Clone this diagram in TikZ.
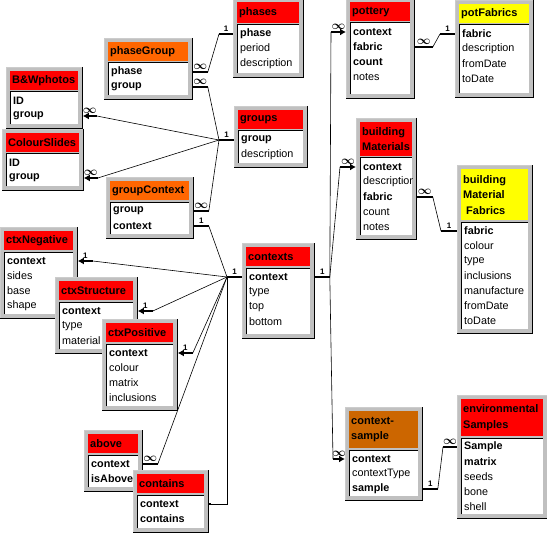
\documentclass[tikz,border=0pt]{standalone}
\usepackage{fontspec}
\setmainfont{Liberation Sans}
\usetikzlibrary{arrows.meta,positioning}
\definecolor{silver}{HTML}{C0C0C0}
\definecolor{tblred}{HTML}{FF0000}
\definecolor{tblorange}{HTML}{FF6600}
\definecolor{tblbrown}{HTML}{CC6600}
\definecolor{tblyellow}{HTML}{FFFF00}
\pgfdeclarelayer{back}
\pgfsetlayers{back,main}

\tikzstyle{tblframe} = [rectangle, fill=silver, draw=gray!40, line width=0.8pt,
    inner sep=0pt, anchor=north west]
\tikzstyle{tblhead} = [rectangle, inner sep=0pt, anchor=north west]
\tikzstyle{tbltitle} = [inner sep=0pt, anchor=west, align=left,
    font=\bfseries\fontsize{11}{15.5}\selectfont]
\tikzstyle{tbllist} = [rectangle, fill=white, inner sep=0pt, anchor=north west]
\tikzstyle{tblfield} = [inner sep=0pt, anchor=west, font=\fontsize{10.8}{12}\selectfont]
\tikzstyle{rel} = [draw, line width=0.6pt]
\tikzstyle{stub} = [draw, line width=2.5pt]
\tikzstyle{into} = [stub, -{Latex[length=6pt,width=7pt]}]
\tikzstyle{card} = [inner sep=0pt, font=\bfseries\fontsize{8}{8}\selectfont]

\newcommand{\many}{{\fontsize{12}{12}\selectfont\boldmath$\infty$}}

% name, top left, width, height, header height, colour, title, fields
\newcommand{\dbtable}[8]{%
  \node[tblframe, minimum width=#3, minimum height=#4] (#1) at #2 {};
  \draw[line width=1pt] (#1.north east) -- (#1.south east) -- (#1.south west);
  \node[tblhead, fill=#6, minimum width=#3-8, minimum height=#5] (#1-h)
      at ([shift={(4,4)}]#1.north west) {};
  \node[tbltitle] at ([xshift=2pt]#1-h.west) {#7};
  \node[tbllist, minimum width=#3-8, minimum height=#4-#5-10] (#1-l)
      at ([shift={(4,#5+6)}]#1.north west) {};
  \draw[line width=1pt] (#1-l.south west) -- (#1-l.north west) -- (#1-l.north east);
  \begin{scope}
    \clip (#1-l.north west) rectangle (#1-l.south east);
    \foreach \fld [count=\i] in {#8} {
      \node[tblfield] at ([shift={(7,#5+15*\i)}]#1.north west) {\fld};
      \coordinate (#1-\i) at ([shift={(0,#5+15*\i)}]#1.north west);
    }
  \end{scope}
}

\begin{document}
\begin{tikzpicture}[x=1pt,y=-1pt]
  \useasboundingbox (0,0) rectangle (547,535);

  \dbtable{phases}{(233,-2)}{70}{79}{21}{tblred}{phases}{\bfseries phase, period, description}
  \dbtable{pottery}{(346,-2)}{68}{100}{19}{tblred}{pottery}{\bfseries context, \bfseries fabric, \bfseries count, notes}
  \dbtable{potfab}{(455,0)}{78}{97}{19}{tblyellow}{potFabrics}{\bfseries fabric, description, fromDate, toDate}
  \dbtable{phasegrp}{(104,38)}{88}{61}{19}{tblorange}{phaseGroup}{\bfseries phase, \bfseries group}
  \dbtable{bwphotos}{(6,67)}{76}{61}{19}{tblred}{B\&Wphotos}{\bfseries ID, \bfseries group}
  \dbtable{slides}{(2,129)}{81}{61}{19}{tblred}{ColourSlides}{\bfseries ID, \bfseries group}
  \dbtable{groups}{(234,106)}{73}{61}{19}{tblred}{groups}{\bfseries group, description}
  \dbtable{grpctx}{(106,177)}{87}{61}{19}{tblorange}{groupContext}{\bfseries group, \bfseries context}
  \dbtable{ctxneg}{(0,227)}{77}{91}{19}{tblred}{ctxNegative}{\bfseries context, sides, base, shape}
  \dbtable{ctxstruct}{(55,277)}{82}{76}{19}{tblred}{ctxStructure}{\bfseries context, type, material}
  \dbtable{ctxpos}{(102,319)}{75}{91}{19}{tblred}{ctxPositive}{\bfseries context, colour, matrix, inclusions}
  \dbtable{contexts}{(242,243)}{72}{95}{19}{tblred}{contexts}{\bfseries context, type, top, bottom}
  \dbtable{bldmat}{(356,118)}{60}{121}{34}{tblred}{building\\Materials}{\bfseries context, description, \bfseries fabric, count, notes}
  \dbtable{bmfab}{(457,165)}{75}{168}{51}{tblyellow}{building\\Material\\\hspace*{3pt}Fabrics}{\bfseries fabric, colour, type, inclusions, manufacture, fromDate, toDate}
  \dbtable{abv}{(84,430)}{58}{61}{19}{tblred}{above}{\bfseries context, \bfseries isAbove}
  \dbtable{contains}{(133,470)}{75}{62}{19}{tblred}{contains}{\bfseries context, \bfseries contains}
  \dbtable{ctxsample}{(345,407)}{77}{93}{37}{tblbrown}{context-\\sample}{\bfseries context, contextType, \bfseries sample}
  \dbtable{envsamp}{(457,395)}{90}{123}{37}{tblred}{environmental\\Samples}{\bfseries Sample, \bfseries matrix, seeds, bone, shell}

  \begin{pgfonlayer}{back}
    % phases and groups
    \draw[stub] (phases-1) -- node[card, above=1pt] {1} ++(-14,0) coordinate (ph1);
    \draw[stub] (phasegrp.east |- phasegrp-1) -- node[card, above=1pt] {\many} ++(15,0) coordinate (pg1);
    \draw[rel] (pg1) -- (ph1);
    \draw[stub] (groups-1) -- node[card, above=1pt] {1} ++(-15,0) coordinate (gj);
    \draw[stub] (phasegrp.east |- phasegrp-2) -- node[card, above=1pt] {\many} ++(15,0) coordinate (pg2);
    \draw[rel] (pg2) -- (gj);
    \foreach \tname in {bwphotos, slides} {
      \path (\tname.east |- \tname-2) ++(14,0) coordinate (\tname-a);
      \draw[into] (\tname-a) -- node[card, above=1pt] {\many} (\tname.east |- \tname-2);
      \draw[rel] (\tname-a) -- (gj);
    }
    \draw[stub] (grpctx.east |- grpctx-1) -- node[card, above=1pt] {\many} ++(15,0) coordinate (gc1);
    \draw[rel] (gc1) -- (gj);

    % contexts, left side
    \draw[stub] (contexts-1) -- node[card, above=1pt] {1} ++(-15,0) coordinate (cj);
    \draw[stub] (grpctx.east |- grpctx-2) -- node[card, above=1pt] {1} ++(15,0) coordinate (gc2);
    \draw[rel] (gc2) -- (cj);
    \foreach \tname in {ctxneg, ctxstruct, ctxpos} {
      \path (\tname.east |- \tname-1) ++(15,0) coordinate (\tname-a);
      \draw[into] (\tname-a) -- node[card, above=1pt] {1} (\tname.east |- \tname-1);
      \draw[rel] (\tname-a) -- (cj);
    }
    \draw[stub] (abv.east |- abv-1) -- node[card, above=1pt] {\many} ++(15,0) coordinate (ab1);
    \draw[rel] (ab1) -- (cj);
    \draw[rel] (cj) |- (contains.east |- contains-1);
    \draw[stub] (contains.east |- contains-1) -- ++(2,0);

    % contexts, right side
    \draw[stub] (contexts.east |- contexts-1) -- node[card, above=1pt] {1} ++(15,0) coordinate (rj);
    \path (pottery-1) ++(-15,0) coordinate (pt1);
    \draw[into] (pt1) -- node[card, above=1pt] {\many} (pottery-1);
    \draw[rel] (rj) -- (pt1);
    \path (bldmat-1) ++(-16,0) coordinate (bm1);
    \draw[into] (bm1) -- node[card, above=1pt] {\many} (bldmat-1);
    \draw[rel] (rj) -- (bm1);
    \path (ctxsample-1) ++(-12,0) coordinate (cs1);
    \draw[into] (cs1) -- node[card, above=1pt] {\many} (ctxsample-1);
    \draw[rel] (rj) -- (cs1);

    % fabrics and samples
    \draw[stub] (pottery.east |- pottery-2) -- node[card, above=1pt] {\many} ++(18,0) coordinate (pt2);
    \draw[stub] (potfab-1) -- node[card, above=1pt] {1} ++(-15,0) coordinate (pf1);
    \draw[rel] (pt2) -- (pf1);
    \draw[stub] (bldmat.east |- bldmat-3) -- node[card, above=1pt] {\many} ++(16,0) coordinate (bm3);
    \draw[stub] (bmfab-1) -- node[card, above=1pt] {1} ++(-16,0) coordinate (bf1);
    \draw[rel] (bm3) -- (bf1);
    \draw[stub] (ctxsample.east |- ctxsample-3) -- node[card, above=1pt] {1} ++(15,0) coordinate (cs3);
    \draw[stub] (envsamp-1) -- node[card, above=1pt] {\many} ++(-14,0) coordinate (es1);
    \draw[rel] (cs3) -- (es1);
  \end{pgfonlayer}
\end{tikzpicture}
\end{document}
